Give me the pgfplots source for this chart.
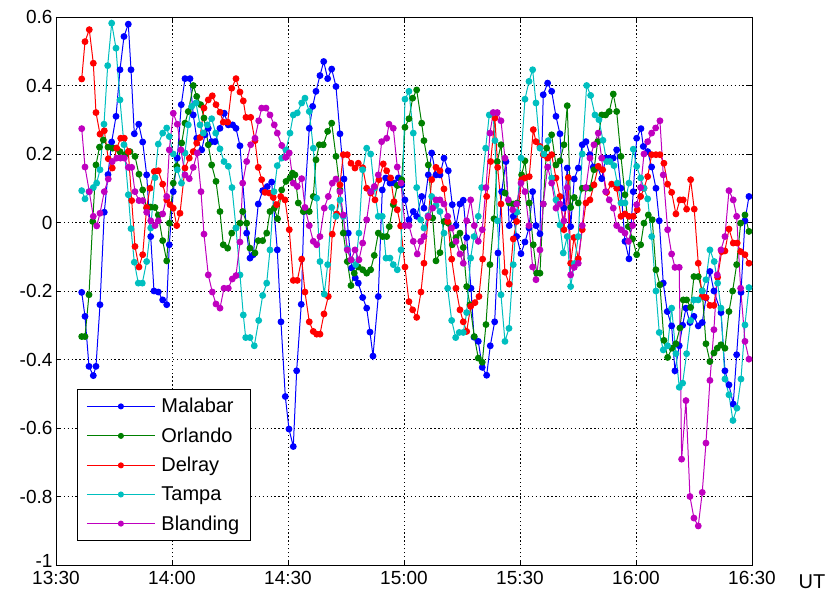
\documentclass[border=0pt]{standalone}
\usepackage{pgfplots}
\pgfplotsset{compat=1.18}
\usepackage{fontspec}
\setmainfont{Liberation Sans}
\definecolor{mblue}{rgb}{0,0,1}
\definecolor{mgreen}{rgb}{0,0.5,0}
\definecolor{mred}{rgb}{1,0,0}
\definecolor{mcyan}{rgb}{0,0.75,0.75}
\definecolor{mmag}{rgb}{0.75,0,0.75}
\begin{document}
\begin{tikzpicture}
\begin{axis}[
  scale only axis, width=696bp, height=548bp,
  xmin=0, xmax=180, ymin=-1, ymax=0.6,
  xtick={0,30,60,90,120,150,180},
  xticklabels={13:30,14:00,14:30,15:00,15:30,16:00,16:30},
  ytick={-1,-0.8,-0.6,-0.4,-0.2,0,0.2,0.4,0.6},
  yticklabels={\raisebox{9bp}{-1},-0.8,-0.6,-0.4,-0.2,0,0.2,0.4,0.6},
  tick align=inside, major tick length=5bp,
  tick style={black, line width=0.6bp},
  grid=major,
  major grid style={black, line width=0.7bp, dash pattern=on 1.3bp off 2.6bp},
  axis line style={black, line width=0.8bp},
  ticklabel style={font=\fontsize{19bp}{21bp}\selectfont},
  xticklabel style={yshift=-3bp},
  every axis plot/.append style={line width=1bp, mark=*, mark size=2.9bp},
  legend cell align=left,
  legend style={at={(rel axis cs:0.0302,0.0438)}, anchor=south west,
    draw=black, line width=0.8bp, inner xsep=9bp, inner ysep=7bp,
    row sep=9.5bp, column sep=4bp,
    nodes={inner sep=2bp},
    font=\fontsize{20bp}{23bp}\selectfont},
  legend image code/.code={\draw[mark repeat=2, mark phase=2, mark size=2.5bp] plot coordinates {(0bp,0bp) (34bp,0bp) (68bp,0bp)};},
]
\coordinate (sw) at (rel axis cs:0,0);
\coordinate (ne) at (rel axis cs:1,1);
\coordinate (se) at (rel axis cs:1,0);
% Malabar
\addplot[color=mblue, mark options={fill=mblue}] table {
6.65 -0.204
7.5 -0.274
8.53 -0.42
9.65 -0.447
10.34 -0.42
11.38 -0.24
12.49 0.03
13.45 0.14
14.4 0.235
15.52 0.31
16.55 0.446
17.58 0.543
18.7 0.579
19.4 0.446
20.25 0.259
21.39 0.287
22.42 0.235
23.45 0.139
24.49 -0.041
25.34 -0.2
26.45 -0.203
27.59 -0.226
28.63 -0.24
29.3 -0.065
30.33 0.09
31.37 0.188
32.4 0.344
33.36 0.42
34.65 0.42
35.5 0.314
36.39 0.246
37.68 0.212
38.53 0.256
39.38 0.275
40.26 0.236
41.12 0.236
42.41 0.275
43.52 0.319
44.56 0.285
45.69 0.285
46.55 0.275
47.58 0.224
49.31 -0.031
50.17 -0.104
51.02 -0.094
52.31 0.054
53.45 0.093
54.64 0.105
55.78 0.118
57.23 -0.08
58.18 -0.29
59.3 -0.508
60.25 -0.603
61.37 -0.654
62.24 -0.433
63.43 -0.239
64.13 0.032
65.5 0.275
66.38 0.339
67.24 0.383
68.27 0.429
69.23 0.47
70.26 0.42
71.3 0.448
72.41 0.397
73.44 0.259
74.48 0.127
75.59 -0.031
76.47 -0.133
77.4 -0.162
78.18 -0.177
79.31 -0.219
80.35 -0.25
81.2 -0.32
81.98 -0.39
83.35 -0.216
84.38 0.095
85.26 0.13
86.37 0.115
87.48 0.115
88.52 0.13
89.4 0.11
90.25 0.066
91.28 0.008
92.4 0.032
93.28 0.018
94.57 0.076
95.16 0.042
96.28 0.139
97.16 0.203
98.27 0.139
99.3 0.139
100.34 0.188
101.45 0.151
102.48 0.052
103.44 -0.009
104.47 0.054
105.33 0.065
106.21 -0.044
107.32 -0.192
108.1 -0.335
109.21 -0.347
110.24 -0.423
111.38 -0.446
112.31 -0.36
113.45 -0.29
114.3 -0.089
115.26 0.09
116.37 0.178
117.22 -0.009
118.26 0.018
119.14 -0.041
120.25 -0.091
121.28 -0.057
122.32 -0.016
123.27 0.09
124.13 -0.009
125.16 -0.033
126.01 0.373
127.15 0.407
128.19 0.383
129.3 0.31
130.33 0.259
131.37 0.042
132.22 0.159
133.1 -0.012
134.03 0.127
135.07 0.159
136.1 0.227
137.06 0.236
138.09 0.198
138.95 0.162
140.09 0.162
141.12 0.128
142.15 0.188
143.08 0.188
144.12 0.188
145 0.212
146.11 0.1
147.15 -0.055
148.18 -0.106
149.29 0.09
150.17 0.246
151.28 0.274
151.88 0.222
153.02 0.207
154.05 0.162
155.16 0.1
156.01 0.005
157.05 -0.177
158.08 -0.26
159.22 -0.302
160.07 -0.433
161.18 -0.36
162.06 -0.3
162.92 -0.25
163.95 -0.292
164.98 -0.274
166.1 -0.302
167.13 -0.292
168.09 -0.22
169.12 -0.143
170.15 -0.2
171.97 -0.263
173 -0.433
174.04 -0.474
175.15 -0.53
176.03 -0.386
177.15 -0.204
178.18 0.005
179.21 0.076
};
\addlegendentry{Malabar\vphantom{Bg}}
% Orlando
\addplot[color=mgreen, mark options={fill=mgreen}] table {
6.65 -0.333
7.5 -0.333
8.53 -0.211
9.49 0.003
10.34 0.168
11.25 0.22
12.23 0.241
13.45 0.22
14.66 0.217
15.52 0.217
16.55 0.207
17.84 0.198
19.14 0.207
20.43 0.193
21.46 0.141
22.42 0.095
23.45 0.042
24.49 0.045
25.6 0.044
26.45 0.022
27.59 -0.053
28.63 -0.112
29.3 -0.002
30.33 0.115
31.22 0.164
32.5 0.232
33.36 0.29
34.21 0.324
35.5 0.4
36.39 0.368
37.42 0.344
38.27 0.305
39.38 0.227
40.26 0.168
41.38 0.12
42.41 0.032
43.26 -0.065
44.4 -0.075
45.44 -0.031
46.55 -0.016
47.58 -0.002
48.28 0.032
49.31 -0.002
50.17 -0.075
51.46 -0.089
52.31 -0.053
53.45 -0.053
54.49 -0.031
55.34 0.032
56.45 0.042
57.3 0.011
58.37 0.095
59.48 0.12
60.51 0.13
61.16 0.144
61.8 0.139
62.66 0.057
63.95 0.032
65.5 0.032
66.54 0.076
67.24 0.183
68.09 0.227
69.12 0.227
70.26 0.266
71.3 0.29
72.41 0.193
73.44 0.095
74.29 -0.031
75.33 -0.114
76.29 -0.184
77.14 -0.148
78.18 -0.13
79.31 -0.138
80.35 -0.148
81.38 -0.138
82.31 -0.096
83.35 -0.031
84.48 -0.041
85.52 -0.041
86.19 -0.012
87.23 0.052
88.26 0.108
89.4 0.125
90.25 0.278
91.28 0.303
92.24 0.363
93.28 0.387
94.57 0.29
95.16 0.239
96.28 0.168
97.42 0.013
98.27 -0.112
99.3 -0.088
100.34 0.003
101.45 -0.002
102.48 -0.065
103.44 -0.044
104.47 -0.031
105.33 -0.073
106.21 -0.187
107.06 -0.24
108.18 -0.333
109.21 -0.396
110.24 -0.408
111.2 -0.298
112.23 -0.123
113.27 0.011
114.12 0.178
115.08 0.227
116.11 0.086
117.22 0.057
118.26 0.054
119.29 0.057
120.43 0.139
121.28 0.18
122.39 0.057
123.43 -0.065
124.31 -0.148
125.16 -0.148
126.01 0.054
126.89 0.217
128.19 0.256
129.3 0.168
130.33 0.18
131.37 0.227
132.22 0.341
133.1 0.044
134.03 0.073
135.07 0.057
136.1 0.1
137.06 0.1
138.09 0.1
139.13 0.154
140.09 0.236
141.12 0.314
142.15 0.314
143.08 0.324
144.12 0.375
145 0.324
146.11 0.193
147.15 0.081
148.01 -0.012
149.13 -0.048
150.17 -0.094
151.2 -0.065
152.06 -0.002
153.18 0.022
154.2 0.008
155.16 -0.138
156.19 -0.182
157.22 -0.344
158.18 -0.394
159.29 -0.367
160.32 -0.354
161.36 -0.308
162.21 -0.226
163.09 -0.226
164.13 -0.248
164.98 -0.158
166.1 -0.158
167.13 -0.2
168.09 -0.354
169.12 -0.406
170.15 -0.381
171.01 -0.367
171.97 -0.357
173 -0.367
174.04 -0.26
174.99 -0.2
176.03 -0.123
177.06 -0.002
178.18 0.022
179.21 -0.026
};
\addlegendentry{Orlando\vphantom{Bg}}
% Delray
\addplot[color=mred, mark options={fill=mred}] table {
6.65 0.419
7.5 0.528
8.61 0.563
9.65 0.465
10.34 0.321
11.38 0.258
12.49 0.268
13.52 0.186
14.56 0.159
15.7 0.217
16.73 0.246
17.66 0.246
18.7 0.207
19.58 0.064
20.43 -0.07
21.46 -0.13
22.42 -0.094
23.45 0.044
24.31 0.1
25.42 0.149
26.45 0.151
27.59 0.112
28.63 0.066
29.48 0.052
30.33 0.042
31.22 -0.009
32.07 0.027
33.36 0.159
34.47 0.188
35.5 0.207
36.39 0.232
37.24 0.248
38.27 0.334
39.38 0.358
40.42 0.37
41.38 0.344
42.41 0.322
43.26 0.293
44.4 0.293
45.44 0.392
46.55 0.42
47.58 0.381
48.44 0.355
49.13 0.307
50.35 0.307
51.46 0.239
52.31 0.161
53.19 0.125
54.05 0.088
55.16 0.086
56.19 0.073
57.07 0.052
58.11 0.076
59.22 0.066
60.33 -0.021
61.37 -0.169
62.4 -0.169
63.54 -0.107
64.39 -0.203
65.5 -0.29
66.54 -0.318
67.42 -0.326
68.27 -0.326
69.3 -0.267
70.42 -0.216
71.45 -0.034
72.59 0.025
73.44 0.11
74.29 0.198
75.33 0.198
76.29 0.173
77.32 0.159
78.18 0.173
79.31 0.16
80.35 0.1
81.38 0.086
82.49 0.066
83.53 0.125
84.64 0.171
85.52 0.151
86.55 0.13
87.41 0.061
88.26 0.037
89.14 -0.01
90.25 -0.13
91.28 -0.231
92.24 -0.255
93.28 -0.277
94.39 -0.203
95.16 -0.119
96.28 0.015
97.16 0.125
98.27 0.161
99.3 0.151
100.34 0.098
101.29 0.003
102.33 -0.107
103.44 -0.192
104.47 -0.255
105.33 -0.29
106.21 -0.318
107.24 -0.245
108.35 -0.234
109.39 -0.216
110.34 -0.107
111.38 0.076
112.41 0.178
113.52 0.305
114.22 0.161
115.08 0.054
116.11 -0.145
117.22 -0.18
118.26 -0.048
119.14 0.003
120.43 0.125
121.28 0.13
122.39 0.134
123.43 0.271
124.13 0.236
125.16 0.222
126.01 0.198
127.15 0.188
128.19 0.198
129.3 0.13
130.33 0.076
131.37 -0.021
132.48 0.131
133.1 -0.119
133.96 -0.044
135.07 -0.106
136.1 -0.021
137.06 0.057
138.09 0.066
139.13 0.11
140.24 0.164
141.38 0.154
142.41 0.088
143.7 0.112
145 0.1
146.11 0.018
147.15 0.025
148.18 0.018
149.29 0.018
150.33 0.037
151.2 0.076
152.06 0.1
153.02 0.134
154.05 0.198
155.16 0.198
156.19 0.198
157.22 0.173
158.18 0.112
159.22 0.088
160.32 0.025
161.36 0.066
162.21 0.066
163.09 0.039
164.13 0.125
165.06 0.039
166.1 -0.119
167.13 -0.216
168.09 -0.219
169.12 -0.242
170.15 -0.242
171.11 -0.16
172.15 -0.085
173 -0.083
174.04 -0.019
175.15 -0.06
176.18 -0.06
177.06 -0.085
178.18 -0.094
179.21 -0.119
};
\addlegendentry{Delray\vphantom{Bg}}
% Tampa
\addplot[color=mcyan, mark options={fill=mcyan}] table {
6.65 0.093
7.5 0.069
8.53 0.09
9.65 0.102
10.52 0.115
11.38 0.154
12.41 0.287
13.37 0.458
14.4 0.582
15.52 0.509
16.55 0.358
17.58 0.227
18.7 0.081
19.4 -0.018
20.25 -0.116
21.28 -0.177
22.32 -0.177
23.45 -0.114
24.49 -0.016
25.6 0.131
26.45 0.229
27.59 0.261
28.63 0.276
29.3 0.251
30.33 0.2
31.37 0.154
32.45 0.115
33.36 0.203
34.21 0.285
35.09 0.339
36.2 0.349
37.24 0.285
38.09 0.261
39.13 0.285
40.26 0.303
41.3 0.261
42.41 0.215
43.45 0.178
44.56 0.164
45.51 0.102
46.55 -0.016
47.58 -0.153
48.44 -0.27
49.06 -0.336
50.17 -0.336
51.28 -0.36
52.42 -0.286
53.45 -0.213
54.49 -0.177
55.34 -0.08
56.38 0.09
57.23 0.166
58.37 0.188
59.48 0.212
60.51 0.261
61.37 0.314
62.4 0.32
63.54 0.349
64.39 0.363
65.5 0.324
66.54 0.217
67.42 0.071
68.27 -0.114
69.38 -0.209
70.26 -0.123
71.3 0.044
72.41 0.018
73.44 0.066
74.29 0.018
75.33 -0.077
76.42 -0.11
77.5 -0.123
78.35 -0.031
79.31 0.154
80.35 0.217
81.38 0.2
82.31 0.1
83.35 0.018
84.38 0.018
85.34 -0.104
86.37 -0.104
87.23 -0.123
88.26 -0.138
89.22 -0.08
90.25 0.36
91.28 0.383
92.4 0.261
93.28 0.102
94.31 0.008
95.16 -0.016
96.2 0.02
97.16 0.076
98.27 0.05
99.3 0.032
100.34 -0.031
101.29 -0.192
102.33 -0.286
103.36 -0.336
104.29 -0.321
105.33 -0.321
106.21 -0.263
107.24 -0.104
108.1 -0.041
109.21 0.018
110.09 0.102
111.12 0.217
112.05 0.314
113.01 0.32
113.52 0.239
114.17 0.005
115.08 -0.211
116.11 -0.347
117.15 -0.309
118.26 -0.123
119.21 0.03
120.25 0.188
121.28 0.36
122.32 0.412
123.27 0.446
124.13 0.349
125.16 0.217
126.2 0.2
127.3 0.239
128.19 0.13
129.3 0.066
130.33 -0.007
131.19 -0.089
132.22 -0.041
133.1 -0.187
134.08 -0.12
135.07 -0.041
136.1 0.2
137.24 0.4
138.27 0.371
139.39 0.314
140.42 0.3
141.45 0.24
142.41 0.178
143.27 0.178
144.3 0.166
145.16 0.115
146.11 0.057
147.15 0.057
148.18 0.115
149.29 0.214
150.17 0.164
151.2 0.13
152.06 0.1
153.02 0.069
154.05 -0.041
155.16 -0.2
156.01 -0.321
157.05 -0.372
158.18 -0.36
159.22 -0.25
160.32 -0.383
161.18 -0.481
162.06 -0.469
163.09 -0.383
164.13 -0.286
164.98 -0.226
166.1 -0.226
167.13 -0.2
168.09 -0.167
169.12 -0.08
170.23 -0.114
171.11 -0.177
171.97 -0.25
173 -0.457
174.04 -0.503
175.07 -0.578
176.1 -0.542
177.15 -0.457
178.18 -0.299
179.21 -0.19
};
\addlegendentry{Tampa\vphantom{Bg}}
% Blanding
\addplot[color=mmag, mark options={fill=mmag}] table {
6.65 0.274
7.5 0.162
8.61 0.09
9.65 0.018
10.52 -0.01
11.38 0.027
12.49 0.09
13.52 0.127
14.56 0.178
15.7 0.188
16.68 0.188
17.66 0.188
18.7 0.161
19.58 0.161
20.43 0.09
21.46 0.064
22.42 0.064
23.45 0.03
24.49 0.005
25.6 -0.009
26.45 0.005
27.59 0.025
28.63 0.076
29.3 0.212
30.33 0.319
31.37 0.287
32.32 0.212
33.36 0.139
34.47 0.128
35.5 0.161
36.54 0.203
37.5 0.09
38.27 -0.034
39.38 -0.153
40.42 -0.203
41.38 -0.238
42.41 -0.25
43.45 -0.192
44.56 -0.192
45.59 -0.165
46.55 -0.155
47.58 -0.057
48.28 0.115
49.31 0.178
50.35 0.227
51.46 0.246
52.42 0.297
53.19 0.334
54.31 0.334
55.34 0.314
56.45 0.285
57.23 0.261
58.37 0.225
59.4 0.19
60.33 0.203
61.37 0.115
62.4 0.105
63.54 0.128
64.39 0.044
65.5 -0.009
66.54 -0.055
67.42 -0.065
68.27 -0.041
69.38 0.042
70.42 0.076
71.45 0.115
72.41 0.127
73.44 0.09
74.29 0.022
75.33 -0.08
76.29 -0.109
77.32 -0.08
78.35 -0.109
79.31 -0.06
80.35 0.008
81.38 0.09
82.31 0.105
83.35 0.139
84.22 0.236
85.52 0.246
86.11 0.287
87.23 0.275
88.26 0.162
89.22 0.115
90.25 -0.009
91.28 -0.009
92.4 -0.055
93.43 -0.092
94.31 -0.055
95.16 -0.041
96.28 0.018
97.42 0.042
98.27 0.066
99.3 0.066
100.34 0.054
101.29 0.018
102.33 -0.016
103.44 -0.055
104.47 -0.092
105.33 -0.119
106.21 0.005
107.24 0.066
108.18 -0.009
109.21 -0.055
110.24 -0.021
111.2 0.102
112.23 0.261
113.09 0.321
114.12 0.321
115.08 0.297
116.11 0.188
116.97 0.066
118.1 0.037
119.14 0.054
120.25 0.115
121.28 0.09
122.32 -0.009
123.27 -0.13
124.13 -0.167
125.16 -0.08
126.01 0.054
127.15 0.162
128.19 0.115
129.3 0.042
130.33 0.054
131.37 0.005
132.22 0.102
133.1 -0.153
134.03 -0.131
135.07 -0.119
136.1 -0.009
137.06 0.102
138.09 0.188
139.13 0.227
140.24 0.261
141.12 0.188
142.15 0.09
143.08 0.066
144.12 0.042
145 -0.009
146.11 -0.021
147.15 -0.031
148.06 -0.055
149.13 -0.009
150.17 0.052
151.2 0.102
152.06 0.2
153.02 0.236
154.05 0.261
155.09 0.276
156.19 0.297
157.05 0.139
158.18 -0.021
159.22 -0.092
160.07 -0.131
161.18 -0.131
161.8 -0.691
162.92 -0.52
163.95 -0.8
164.98 -0.863
166.1 -0.886
167.13 -0.788
168.09 -0.644
169.12 -0.461
170.15 -0.313
171.01 -0.153
171.97 -0.08
173 -0.041
174.04 0.093
175.15 0.066
176.03 0.018
177.06 -0.192
178.18 -0.347
179.21 -0.399
};
\addlegendentry{Blanding\vphantom{Bg}}
\end{axis}
\node[font=\fontsize{20bp}{22bp}\selectfont] at ([shift={(60bp,-17bp)}]se) {UT};
\pgfresetboundingbox
\path[use as bounding box] ([shift={(-56bp,-31bp)}]sw) rectangle ([shift={(80bp,17bp)}]ne);
\end{tikzpicture}
\end{document}
